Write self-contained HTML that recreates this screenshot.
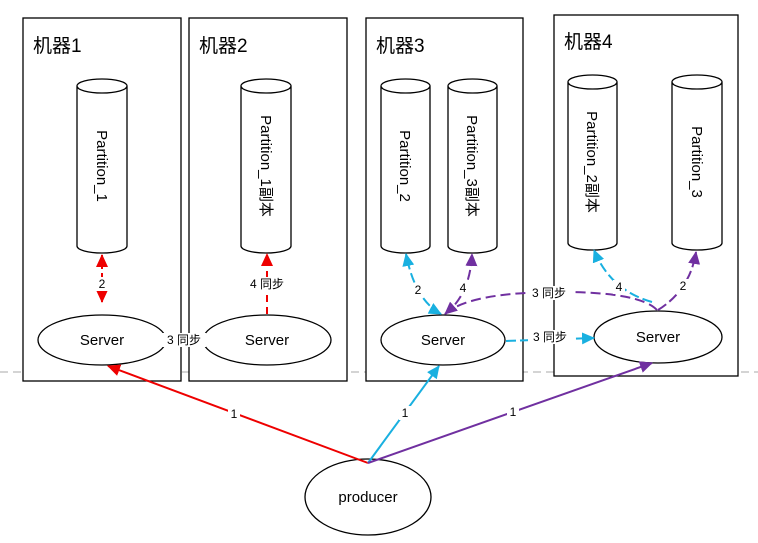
<html><body style="margin:0;background:#fff">
<svg width="758" height="543" xmlns="http://www.w3.org/2000/svg" font-family="Liberation Sans, Noto Sans CJK SC, sans-serif">
<defs>
<marker id="r" markerWidth="14" markerHeight="14" refX="12" refY="6" orient="auto-start-reverse" markerUnits="userSpaceOnUse"><path d="M0,0L13,6L0,12z" fill="#e00"/></marker>
<marker id="c" markerWidth="14" markerHeight="14" refX="12" refY="6" orient="auto-start-reverse" markerUnits="userSpaceOnUse"><path d="M0,0L13,6L0,12z" fill="#19b0e0"/></marker>
<marker id="p" markerWidth="14" markerHeight="14" refX="12" refY="6" orient="auto-start-reverse" markerUnits="userSpaceOnUse"><path d="M0,0L13,6L0,12z" fill="#7030a0"/></marker>
</defs>
<line x1="0" y1="372" x2="758" y2="372" stroke="#aaa" stroke-dasharray="8,5"/>
<g fill="#fff" stroke="#000" stroke-width="1.3">
<rect x="23" y="18" width="158" height="363"/>
<rect x="189" y="18" width="158" height="363"/>
<rect x="366" y="18" width="157" height="363"/>
<rect x="554" y="15" width="184" height="361"/>
</g>
<g font-size="19" fill="#000">
<text x="33" y="52">机器1</text><text x="199" y="52">机器2</text><text x="376" y="52">机器3</text><text x="564" y="48">机器4</text>
</g>
<g fill="#fff" stroke="#000" stroke-width="1.3">
<path d="M77,86 V246 A25,7 0 0 0 127,246 V86 A25,7 0 0 0 77,86 A25,7 0 0 0 127,86"/>
<path d="M241,86 V246 A25,7 0 0 0 291,246 V86 A25,7 0 0 0 241,86 A25,7 0 0 0 291,86"/>
<path d="M381,86 V246 A24.5,7 0 0 0 430,246 V86 A24.5,7 0 0 0 381,86 A24.5,7 0 0 0 430,86"/>
<path d="M448,86 V246 A24.5,7 0 0 0 497,246 V86 A24.5,7 0 0 0 448,86 A24.5,7 0 0 0 497,86"/>
<path d="M568,82 V243 A24.5,7 0 0 0 617,243 V82 A24.5,7 0 0 0 568,82 A24.5,7 0 0 0 617,82"/>
<path d="M672,82 V243 A25,7 0 0 0 722,243 V82 A25,7 0 0 0 672,82 A25,7 0 0 0 722,82"/>
</g>
<g font-size="15" text-anchor="middle">
<text transform="translate(97,166) rotate(90)">Partition_1</text>
<text transform="translate(261,166) rotate(90)">Partition_1副本</text>
<text transform="translate(400,166) rotate(90)">Partition_2</text>
<text transform="translate(467,166) rotate(90)">Partition_3副本</text>
<text transform="translate(587,162) rotate(90)">Partition_2副本</text>
<text transform="translate(692,162) rotate(90)">Partition_3</text>
</g>
<g fill="#fff" stroke="#000" stroke-width="1.3">
<ellipse cx="102" cy="340" rx="64" ry="25"/>
<ellipse cx="267" cy="340" rx="64" ry="25"/>
<ellipse cx="443" cy="340" rx="62" ry="25"/>
<ellipse cx="658" cy="337" rx="64" ry="26"/>
<ellipse cx="368" cy="497" rx="63" ry="38"/>
</g>
<g font-size="15" text-anchor="middle">
<text x="102" y="345">Server</text><text x="267" y="345">Server</text><text x="443" y="345">Server</text><text x="658" y="342">Server</text><text x="368" y="502">producer</text>
</g>
<line x1="102" y1="302" x2="102" y2="255" stroke="#e00" stroke-width="2" stroke-dasharray="7,4" marker-start="url(#r)" marker-end="url(#r)"/>
<line x1="267" y1="314" x2="267" y2="254" stroke="#e00" stroke-width="2" stroke-dasharray="7,5" marker-end="url(#r)"/>
<line x1="368" y1="463" x2="108" y2="366" stroke="#e00" stroke-width="2" marker-end="url(#r)"/>
<path d="M441,314 Q415,300 406,254" fill="none" stroke="#19b0e0" stroke-width="2" stroke-dasharray="10,4" marker-start="url(#c)" marker-end="url(#c)"/>
<path d="M506,341 L594,338" fill="none" stroke="#19b0e0" stroke-width="2" stroke-dasharray="10,4" marker-end="url(#c)"/>
<path d="M652,302 Q610,290 594,250" fill="none" stroke="#19b0e0" stroke-width="2" stroke-dasharray="10,4" marker-end="url(#c)"/>
<line x1="368" y1="463" x2="439" y2="366" stroke="#19b0e0" stroke-width="2" marker-end="url(#c)"/>
<path d="M445,314 Q470,295 472,254" fill="none" stroke="#7030a0" stroke-width="2" stroke-dasharray="10,4" marker-end="url(#p)"/>
<path d="M657,310 Q640,292 560,292 Q470,292 445,314" fill="none" stroke="#7030a0" stroke-width="2" stroke-dasharray="10,5" marker-end="url(#p)"/>
<path d="M658,310 Q690,290 696,252" fill="none" stroke="#7030a0" stroke-width="2" stroke-dasharray="10,4" marker-end="url(#p)"/>
<line x1="368" y1="463" x2="652" y2="363" stroke="#7030a0" stroke-width="2" marker-end="url(#p)"/>
<g font-size="12" text-anchor="middle">
<rect x="96" y="277" width="12" height="14" fill="#fff"/><text x="102" y="288">2</text>
<rect x="244" y="277" width="46" height="14" fill="#fff"/><text x="267" y="288">4 同步</text>
<rect x="162" y="333" width="44" height="14" fill="#fff"/><text x="184" y="344">3 同步</text>
<rect x="412" y="283" width="12" height="14" fill="#fff"/><text x="418" y="294">2</text>
<rect x="457" y="281" width="12" height="14" fill="#fff"/><text x="463" y="292">4</text>
<rect x="527" y="286" width="44" height="14" fill="#fff"/><text x="549" y="297">3 同步</text>
<rect x="528" y="330" width="44" height="14" fill="#fff"/><text x="550" y="341">3 同步</text>
<rect x="613" y="280" width="12" height="14" fill="#fff"/><text x="619" y="291">4</text>
<rect x="677" y="279" width="12" height="14" fill="#fff"/><text x="683" y="290">2</text>
<rect x="228" y="407" width="12" height="14" fill="#fff"/><text x="234" y="418">1</text>
<rect x="399" y="406" width="12" height="14" fill="#fff"/><text x="405" y="417">1</text>
<rect x="507" y="405" width="12" height="14" fill="#fff"/><text x="513" y="416">1</text>
</g>
</svg>
</body></html>
